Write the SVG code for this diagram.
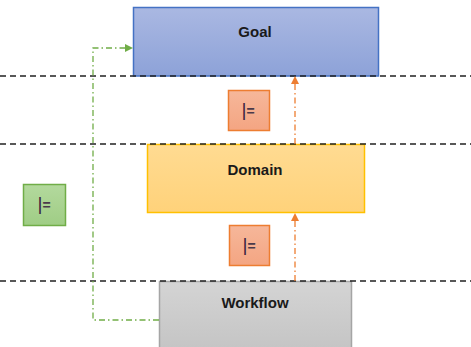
<svg xmlns="http://www.w3.org/2000/svg" width="471" height="347" viewBox="0 0 471 347">
  <style>
    .lbl { font-family: "Liberation Sans", Arial, sans-serif; font-weight: bold; font-size: 15px; fill: #1a1a1a; text-anchor: middle; }
    .sym { font-family: "Liberation Sans", Arial, sans-serif; font-size: 14px; font-weight: bold; fill: #4a3a4a; text-anchor: middle; }
    .bar { font-size: 19px; font-weight: normal; fill: #3a2440; }
    .tier { stroke: #222; stroke-width: 1.4; stroke-dasharray: 6 4; fill: none; }
    .orange-link { stroke: #ed7d31; stroke-width: 1.3; stroke-dasharray: 6 3 1.5 3; fill: none; }
    .green-link { stroke: #70ad47; stroke-width: 1.3; stroke-dasharray: 6 3 1.5 3; fill: none; }
    .sat-o { fill: url(#gOrange); stroke: #ed7d31; stroke-width: 1.5; }
    .sat-g { fill: url(#gGreen); stroke: #70ad47; stroke-width: 1.5; }
  </style>
  <defs>
    <linearGradient id="gBlue" x1="0" y1="0" x2="0" y2="1">
      <stop offset="0" stop-color="#aab8e2"/>
      <stop offset="1" stop-color="#8da2d8"/>
    </linearGradient>
    <linearGradient id="gYellow" x1="0" y1="0" x2="0" y2="1">
      <stop offset="0" stop-color="#ffdb92"/>
      <stop offset="1" stop-color="#ffd27a"/>
    </linearGradient>
    <linearGradient id="gGrey" x1="0" y1="0" x2="0" y2="1">
      <stop offset="0" stop-color="#d4d4d4"/>
      <stop offset="1" stop-color="#c4c4c4"/>
    </linearGradient>
    <linearGradient id="gOrange" x1="0" y1="0" x2="0" y2="1">
      <stop offset="0" stop-color="#f6b79a"/>
      <stop offset="1" stop-color="#f4a582"/>
    </linearGradient>
    <linearGradient id="gGreen" x1="0" y1="0" x2="0" y2="1">
      <stop offset="0" stop-color="#b3d99d"/>
      <stop offset="1" stop-color="#9fcd85"/>
    </linearGradient>
    <marker id="arrO" markerWidth="8" markerHeight="8" refX="7" refY="4" orient="auto" markerUnits="userSpaceOnUse">
      <path d="M0,0 L8,4 L0,8 Z" fill="#ed7d31"/>
    </marker>
    <marker id="arrG" markerWidth="8" markerHeight="8" refX="7" refY="4" orient="auto" markerUnits="userSpaceOnUse">
      <path d="M0,0 L8,4 L0,8 Z" fill="#70ad47"/>
    </marker>
  </defs>

  <rect width="471" height="347" fill="#ffffff"/>

  <!-- tiers -->
  <g id="goal">
    <rect x="133.5" y="7.5" width="245" height="68.5" fill="url(#gBlue)" stroke="#4472c4" stroke-width="1.5"/>
    <text class="lbl" x="255" y="37">Goal</text>
  </g>
  <g id="domain">
    <rect x="147.5" y="144.5" width="217" height="68" fill="url(#gYellow)" stroke="#ffc000" stroke-width="1.5"/>
    <text class="lbl" x="255" y="175">Domain</text>
  </g>
  <g id="workflow">
    <rect x="159.5" y="281.5" width="192" height="70" fill="url(#gGrey)" stroke="#a5a5a5" stroke-width="1.5"/>
    <text class="lbl" x="255" y="308">Workflow</text>
  </g>

  <!-- tier separators -->
  <g id="separators">
    <line class="tier" x1="0" y1="76" x2="471" y2="76"/>
    <line class="tier" x1="0" y1="144" x2="471" y2="144"/>
    <line class="tier" x1="0" y1="281" x2="471" y2="281"/>
  </g>

  <!-- satisfaction badges -->
  <g id="sat-goal-domain">
    <rect class="sat-o" x="228.5" y="90.5" width="41" height="40"/>
    <text class="sym" x="248" y="116"><tspan class="bar">|</tspan>=</text>
  </g>
  <g id="sat-domain-workflow">
    <rect class="sat-o" x="229.5" y="225.5" width="40" height="40"/>
    <text class="sym" x="249" y="251"><tspan class="bar">|</tspan>=</text>
  </g>
  <g id="sat-goal-workflow">
    <rect class="sat-g" x="23.5" y="184.5" width="42" height="41"/>
    <text class="sym" x="44" y="210"><tspan class="bar">|</tspan>=</text>
  </g>

  <!-- connectors -->
  <g id="connectors">
    <line class="orange-link" x1="295" y1="281" x2="295" y2="214" marker-end="url(#arrO)"/>
    <line class="orange-link" x1="295" y1="144" x2="295" y2="77" marker-end="url(#arrO)"/>
    <polyline class="green-link" points="159,320 93,320 93,48 132,48" marker-end="url(#arrG)"/>
  </g>
</svg>
